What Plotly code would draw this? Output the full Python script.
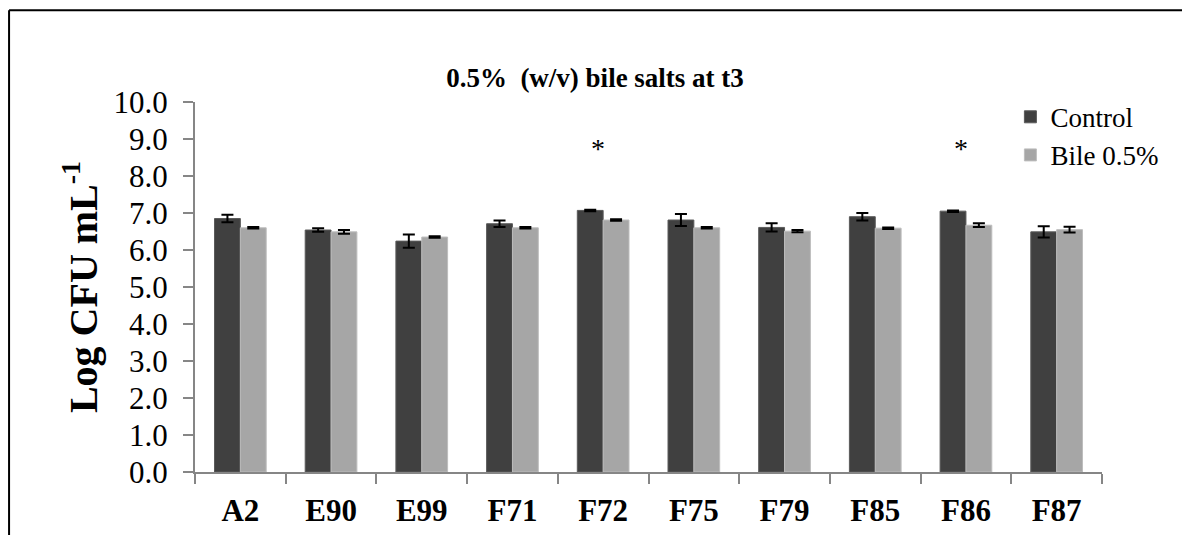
import plotly.graph_objects as go

categories = ["A2", "E90", "E99", "F71", "F72", "F75", "F79", "F85", "F86", "F87"]
control = [6.85, 6.54, 6.24, 6.71, 7.07, 6.81, 6.61, 6.90, 7.05, 6.49]
control_err = [0.10, 0.05, 0.18, 0.09, 0.02, 0.16, 0.11, 0.10, 0.02, 0.15]
bile = [6.60, 6.49, 6.35, 6.60, 6.81, 6.60, 6.51, 6.59, 6.67, 6.55]
bile_err = [0.02, 0.05, 0.02, 0.02, 0.02, 0.02, 0.03, 0.02, 0.05, 0.08]
star_cats = ["F72", "F86"]
star_y = 8.75
yticks = [i for i in range(0, 11)]

FONT = "Liberation Serif"

fig = go.Figure()
fig.add_trace(go.Bar(
    x=categories, y=control, name="Control",
    marker=dict(color="#404040", line=dict(color="#5a5a5a", width=1)),
    error_y=dict(type="data", array=control_err, visible=True, color="black", thickness=2, width=6),
))
fig.add_trace(go.Bar(
    x=categories, y=bile, name="Bile 0.5%",
    marker=dict(color="#A6A6A6", line=dict(color="#bdbdbd", width=1)),
    error_y=dict(type="data", array=bile_err, visible=True, color="black", thickness=2, width=6),
))

for c in star_cats:
    fig.add_annotation(x=c, y=star_y, text="*", showarrow=False, xshift=-5,
                       font=dict(family=FONT, size=28, color="black"))

# outer frame (left and top edges)
fig.add_shape(type="line", xref="paper", yref="paper", x0=-0.205, x1=-0.205, y0=1.248, y1=-0.3,
              line=dict(color="black", width=2))
fig.add_shape(type="line", xref="paper", yref="paper", x0=-0.205, x1=1.2, y0=1.248, y1=1.248,
              line=dict(color="black", width=2))

fig.update_layout(
    width=1190, height=535,
    margin=dict(l=187, r=96, t=94, b=71),
    paper_bgcolor="white", plot_bgcolor="white",
    barmode="group", bargap=0.43, bargroupgap=0,
    font=dict(family=FONT, color="black"),
    title=dict(text="<b>0.5%  (w/v) bile salts at t3</b>", x=(595 - 8) / 1190, xanchor="center",
               y=1 - 70 / 535, yanchor="middle", font=dict(family=FONT, size=27, color="black")),
    legend=dict(x=0.899, y=1.025, xanchor="left", yanchor="top", bgcolor="rgba(0,0,0,0)",
                font=dict(family=FONT, size=27, color="black"), itemwidth=30, tracegroupgap=0),
    showlegend=True,
)
fig.update_xaxes(
    type="category", tickson="boundaries", ticks="outside", ticklen=10, tickwidth=2,
    tickcolor="#868686", showline=True, linecolor="#868686", linewidth=2,
    showgrid=False, tickfont=dict(family=FONT, size=31, color="black"), ticklabelstandoff=10,
    ticktext=["<b>%s</b>" % c for c in categories], tickvals=categories,
)
fig.update_yaxes(
    range=[0, 10], tickvals=yticks, ticktext=["%.1f" % v for v in yticks],
    ticks="outside", ticklen=10, tickwidth=2, tickcolor="#868686",
    showline=True, linecolor="#868686", linewidth=2, showgrid=False, zeroline=False,
    tickfont=dict(family=FONT, size=31, color="black"), ticklabelstandoff=9,
    title=dict(text="<b>Log CFU mL<sup>-1</sup></b>", font=dict(family=FONT, size=40, color="black"), standoff=4),
)

fig.write_html("out.html")
